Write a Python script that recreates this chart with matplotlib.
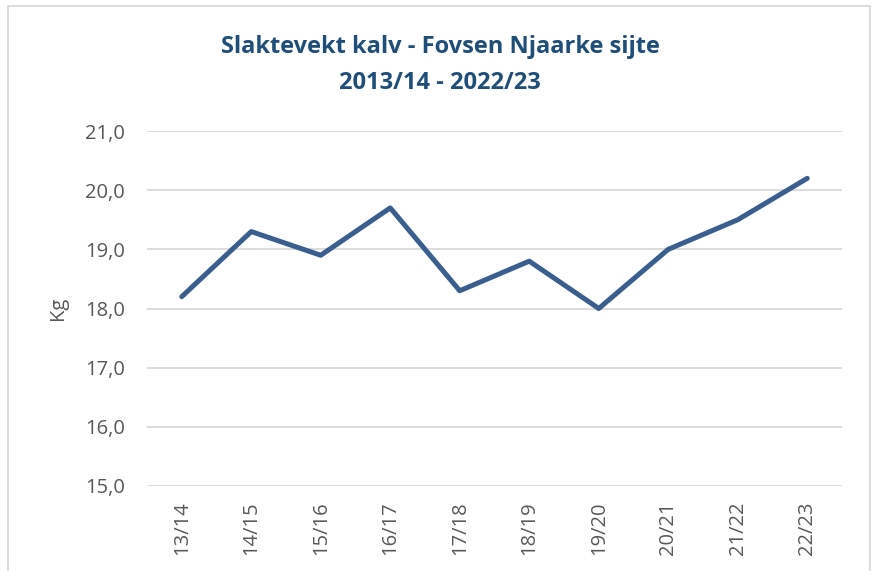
import matplotlib
matplotlib.use('Agg')
import matplotlib.pyplot as plt
from matplotlib.patches import Rectangle
from matplotlib.ticker import FuncFormatter

# Slaktevekt kalv per sesong
seasons = ['13/14', '14/15', '15/16', '16/17', '17/18',
           '18/19', '19/20', '20/21', '21/22', '22/23']
weight_kg = [18.2, 19.3, 18.9, 19.7, 18.3, 18.8, 18.0, 19.0, 19.5, 20.2]

title_color = '#1F4E79'
line_color = '#3A5F8F'
text_gray = '#595959'

plt.rcParams['font.family'] = ['Open Sans', 'DejaVu Sans']

fig = plt.figure(figsize=(8.75, 5.71), dpi=100)
ax = fig.add_axes([147 / 875, 1 - 486 / 571, 695 / 875, 355 / 571])

x = list(range(len(seasons)))
ax.plot(x, weight_kg, color=line_color, lw=3.6, solid_capstyle='round',
        solid_joinstyle='round', zorder=3)

ax.set_xlim(-0.5, len(seasons) - 0.5)
ax.set_ylim(15, 21)
ax.set_yticks([15, 16, 17, 18, 19, 20, 21])
ax.yaxis.set_major_formatter(FuncFormatter(lambda v, p: f'{v:.1f}'.replace('.', ',')))
ax.set_xticks(x)
ax.set_xticklabels(seasons, rotation=90)

ax.grid(axis='y', color='#D9D9D9', lw=1.3)
ax.set_axisbelow(True)
for s in ax.spines.values():
    s.set_visible(False)
ax.tick_params(axis='both', length=0, labelsize=14.5, colors=text_gray)
ax.tick_params(axis='y', pad=16)
ax.tick_params(axis='x', pad=11)

ax.set_ylabel('Kg', fontsize=14.5, color=text_gray, labelpad=12)

fig.text(440 / 875, 1 - 47 / 571, 'Slaktevekt kalv - Fovsen Njaarke sijte',
         ha='center', va='center', fontsize=17, fontweight='bold', color=title_color)
fig.text(440 / 875, 1 - 83 / 571, '2013/14 - 2022/23',
         ha='center', va='center', fontsize=17, fontweight='bold', color=title_color)

# chart area border
fig.patches.append(Rectangle((8 / 875, -0.05), 862 / 875, 1.05 - 6 / 571,
                             transform=fig.transFigure, fill=False,
                             edgecolor='#D9D9D9', lw=1.3))

fig.savefig('out.png', dpi=100)
